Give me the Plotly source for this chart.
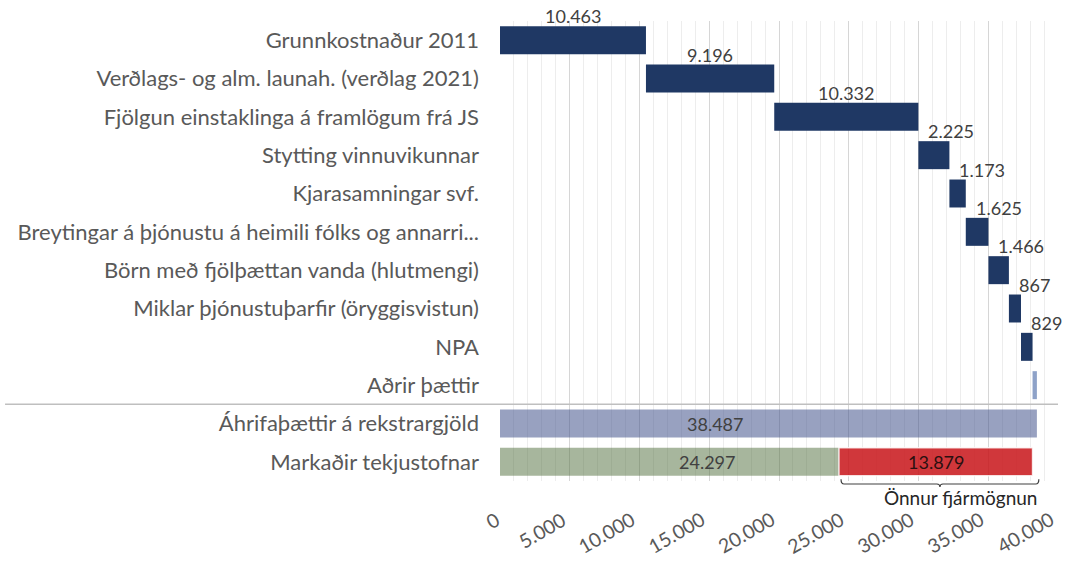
import numpy as np
import plotly.graph_objects as go

# ---------------- data ----------------
categories = [
    "Grunnkostnaður 2011",
    "Verðlags- og alm. launah. (verðlag 2021)",
    "Fjölgun einstaklinga á framlögum frá JS",
    "Stytting vinnuvikunnar",
    "Kjarasamningar svf.",
    "Breytingar á þjónustu á heimili fólks og annarri...",
    "Börn með fjölþættan vanda (hlutmengi)",
    "Miklar þjónustuþarfir (öryggisvistun)",
    "NPA",
    "Aðrir þættir",
    "Áhrifaþættir á rekstrargjöld",
    "Markaðir tekjustofnar",
]
step_values = [10463, 9196, 10332, 2225, 1173, 1625, 1466, 867, 829]
other_factors = [311]
total_costs = [38487]
earmarked_revenue = [24297]
other_funding = [13879]
bracket_label = "Önnur fjármögnun"
x_ticks = [0, 5000, 10000, 15000, 20000, 25000, 30000, 35000, 40000]

# ---------------- styles ----------------
FONT = "Lato"
NAVY = "#1F3864"
LIGHT = "#8EA2C8"
TOTAL_C = "rgba(68,84,140,0.55)"
GREEN_C = "rgba(80,110,60,0.5)"
RED_C = "rgba(200,20,25,0.85)"
LABEL_C = "#404040"
AXIS_C = "#595959"
BAR_W = 0.73

steps = np.array(step_values)
step_bases = np.concatenate([[0], np.cumsum(steps)[:-1]])
step_end = int(steps.sum())

fig = go.Figure()
fig.add_trace(go.Bar(
    y=categories[:9], x=step_values, base=step_bases, orientation="h",
    marker=dict(color=NAVY, line=dict(width=0)), width=BAR_W, hoverinfo="skip",
))
fig.add_trace(go.Bar(
    y=[categories[9]], x=other_factors, base=[step_end], orientation="h",
    marker=dict(color=LIGHT, line=dict(width=0)), width=BAR_W, hoverinfo="skip",
))
fig.add_trace(go.Bar(
    y=[categories[10]], x=total_costs, base=[0], orientation="h",
    marker=dict(color=TOTAL_C, line=dict(width=0)), width=BAR_W, hoverinfo="skip",
))
fig.add_trace(go.Bar(
    y=[categories[11]], x=earmarked_revenue, base=[0], orientation="h",
    marker=dict(color=GREEN_C, line=dict(width=0)), width=BAR_W, hoverinfo="skip",
))
fig.add_trace(go.Bar(
    y=[categories[11]], x=other_funding, base=earmarked_revenue, orientation="h",
    marker=dict(color=RED_C, line=dict(color="rgba(255,255,255,0.8)", width=1.5)),
    width=BAR_W, hoverinfo="skip",
))

def fmt(v):
    return f"{v:,}".replace(",", ".")

LBL = dict(family=FONT, size=18, color=LABEL_C)
annotations = []
for i, (v, b) in enumerate(zip(step_values, step_bases)):
    if v > 5000:
        ax, anchor, shift = b + v / 2, "center", 0
    else:
        ax, anchor, shift = b, "left", 8
    annotations.append(dict(
        x=ax, y=categories[i], xref="x", yref="y", text=fmt(v),
        showarrow=False, xanchor=anchor, yanchor="bottom", xshift=shift, yshift=11,
        font=LBL,
    ))

# labels inside the bottom bars
annotations.append(dict(
    x=total_costs[0] * 0.40, y=categories[10], xref="x", yref="y", text=fmt(total_costs[0]),
    showarrow=False, font=LBL,
))
annotations.append(dict(
    x=earmarked_revenue[0] * 0.61, y=categories[11], xref="x", yref="y", text=fmt(earmarked_revenue[0]),
    showarrow=False, font=LBL,
))
annotations.append(dict(
    x=earmarked_revenue[0] + other_funding[0] / 2, y=categories[11], xref="x", yref="y",
    text=fmt(other_funding[0]), showarrow=False,
    font=dict(family=FONT, size=18, color="#2a1010"),
))

# x tick labels (rotated, top-right corner at the tick)
for t in x_ticks:
    annotations.append(dict(
        x=t, y=-0.052, xref="x", yref="paper", text=fmt(t), showarrow=False,
        textangle=-30, xanchor="right", yanchor="top", xshift=2 if t else 6,
        font=dict(family=FONT, size=19.5, color=AXIS_C),
    ))

# bracket under "other funding"
x0 = earmarked_revenue[0] + 150
x1 = earmarked_revenue[0] + other_funding[0] + 450
xm = (x0 + x1) / 2
d = 220
yt, yl, yb = 0.004, -0.0065, -0.013
path = (f"M {x0},{yt} Q {x0},{yl} {x0+d},{yl} L {xm-d},{yl} Q {xm},{yl} {xm},{yb} "
        f"Q {xm},{yl} {xm+d},{yl} L {x1-d},{yl} Q {x1},{yl} {x1},{yt}")
shapes = [
    dict(type="path", path=path, xref="x", yref="paper",
         line=dict(color="#404040", width=1.2)),
    dict(type="line", xref="paper", yref="y", x0=-0.887, x1=1.0, y0=9.5, y1=9.5,
         line=dict(color="#BFBFBF", width=1.5)),
]
annotations.append(dict(
    x=x1, y=-0.035, xref="x", yref="paper", text=bracket_label, showarrow=False,
    xanchor="right", yanchor="middle",
    font=dict(family=FONT, size=19, color="#262626"),
))

fig.update_layout(
    width=1065, height=562,
    margin=dict(l=500, r=7, t=21, b=81),
    paper_bgcolor="white", plot_bgcolor="white",
    barmode="overlay", showlegend=False,
    separators=",.",
    font=dict(family=FONT, color=AXIS_C),
    annotations=annotations, shapes=shapes,
)
fig.update_xaxes(
    range=[0, 40000], tickvals=x_ticks, showticklabels=False, automargin=False,
    showgrid=True, gridcolor="#D6D6D6", gridwidth=1, zeroline=False,
    minor=dict(dtick=1000, showgrid=True, gridcolor="#EDEDED", gridwidth=1),
    ticks="", showline=False,
)
fig.update_yaxes(
    categoryorder="array", categoryarray=categories, autorange="reversed",
    automargin=False,
    tickfont=dict(family=FONT, size=22, color=AXIS_C),
    showgrid=False, zeroline=False, ticks="", ticklabelstandoff=20,
)

fig.write_html(
    "out.html",
    config={"displayModeBar": False},
    post_script="document.body.style.margin='0';document.body.style.overflow='hidden';",
)
